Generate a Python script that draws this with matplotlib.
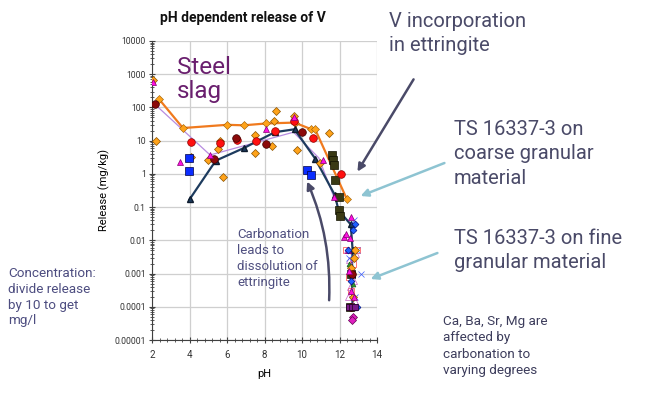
import numpy as np
import matplotlib
matplotlib.use('Agg')
import matplotlib.pyplot as plt
from matplotlib.ticker import LogLocator, MultipleLocator, FixedLocator, NullFormatter
from matplotlib.patches import FancyArrowPatch

plt.rcParams['font.family'] = ['Roboto', 'DejaVu Sans']

# Lines (Excel series with connecting lines)
orange_ph = [2.35, 3.65, 6.0, 6.9, 8.1, 9.6, 10.5, 10.7, 12.4]
orange_v = [185, 24, 30, 29, 33, 35, 22, 22, 0.17]

navy_ph = [4.0, 5.4, 6.9, 8.55, 9.6, 10.7, 11.75, 11.95, 12.6, 12.7, 12.65, 12.7]
navy_v = [0.17, 2.5, 6, 18, 22, 2.9, 0.23, 0.08, 0.03, 0.005, 0.001, 0.0001]

violet_ph = [2.15, 5.1, 9.55, 10.9, 11.7]
violet_v = [125, 3.7, 18, 3, 0.2]

# Scattered series
diam_ph = [2.07, 2.21, 4.06, 5.0, 5.54, 5.63, 5.8, 7.5, 7.5, 8.38, 8.5, 8.6, 9.55, 9.73,
           10.96, 11.46, 12.75, 12.85, 12.7, 12.6]
diam_v = [680, 10, 3.3, 2.7, 5.6, 10, 0.8, 15, 4.2, 7, 40, 78, 56, 5.3,
          2.2, 17, 0.003, 0.005, 0.0002, 0.0015]

red_ph = [4.06, 5.63, 6.52, 7.55, 8.56, 9.59, 10.6, 12.06]
red_v = [9.3, 8.3, 10.5, 9.8, 19, 39, 12, 0.98]

maroon_ph = [2.16, 5.3, 6.5, 8.07, 10.0, 12.65, 12.6]
maroon_v = [125, 2.8, 12, 7.9, 18, 0.001, 0.0001]

magenta_ph = [2.07, 3.5, 5.1, 8.1, 9.55, 11.1, 11.7, 12.25, 12.35, 12.55, 12.6, 12.5, 12.6,
              12.45, 12.75]
magenta_v = [600, 2.3, 3.7, 23, 50, 2.6, 0.2, 0.013, 0.016, 0.012, 0.05, 0.0012, 0.0003,
             0.005, 0.0002]

blue_sq_ph = [3.98, 3.98, 10.28, 10.5]
blue_sq_v = [3.1, 1.2, 1.3, 0.9]

dark_sq_ph = [11.6, 11.65, 11.7, 11.75, 11.95, 11.95, 12.05, 12.6, 12.55]
dark_sq_v = [3.7, 2.6, 1.8, 0.65, 0.2, 0.08, 0.055, 0.001, 0.0001]

open_tri_ph = [12.4, 12.5, 12.6, 12.75, 12.55, 12.9, 12.7, 12.45, 12.8]
open_tri_v = [0.005, 0.0025, 0.0012, 0.0006, 0.0004, 0.004, 0.003, 0.0002, 0.00015]

open_sq_ph = [12.35, 12.95, 12.7, 12.5, 12.6]
open_sq_v = [0.005, 0.005, 0.002, 0.0008, 0.0003]

x_ph = [12.75, 12.95, 13.15, 12.5, 12.85, 12.55]
x_v = [0.04, 0.005, 0.001, 0.003, 0.0002, 0.0015]

purple_sq_ph = [12.5, 12.65, 12.8]
purple_sq_v = [0.0001, 0.0001, 0.0001]

pink_diam_ph = [12.7, 12.68]
pink_diam_v = [0.00005, 0.00004]

blue_pt_ph = [12.8, 12.45, 12.95, 12.6, 12.7]
blue_pt_v = [0.03, 0.005, 0.0001, 0.0006, 0.02]

green_ph = [12.6, 12.7, 12.5]
green_v = [0.001, 0.0005, 0.002]

ylabels = ['0.00001', '0.0001', '0.001', '0.01', '0.1', '1', '10', '100', '1000', '10000']

fig = plt.figure(figsize=(6.56, 3.99), dpi=100)
W, H = 656, 399
ax = fig.add_axes([152 / W, 1 - 340 / H, 225 / W, 299 / H])

ax.set_yscale('log')
ax.set_xlim(2, 14)
ax.set_ylim(1e-5, 1e4)
ax.grid(True, which='major', color='#cfcfcf', lw=0.9)
ax.set_axisbelow(True)
for s in ['top', 'right']:
    ax.spines[s].set_visible(False)
for s in ['left', 'bottom']:
    ax.spines[s].set_color('#404040')

ax.xaxis.set_major_locator(MultipleLocator(2))
ax.xaxis.set_minor_locator(MultipleLocator(0.4))
ax.yaxis.set_minor_locator(LogLocator(base=10, subs=np.arange(2, 10), numticks=20))
ax.yaxis.set_minor_formatter(NullFormatter())
ax.yaxis.set_major_locator(FixedLocator([10.0 ** k for k in range(-5, 5)]))
ax.set_yticklabels(ylabels)
ax.tick_params(which='major', direction='inout', length=5, width=0.8, color='#404040',
               labelcolor='#333333')
ax.tick_params(axis='y', labelsize=6.2, pad=2)
ax.tick_params(axis='x', labelsize=7, pad=5)
ax.tick_params(which='minor', direction='inout', length=3, width=0.6, color='#404040')
ax.set_xlabel('pH', fontsize=8, labelpad=6)
ax.set_ylabel('Release (mg/kg)', fontsize=8, labelpad=3)

# connecting lines
ax.plot(violet_ph, violet_v, color='#b78ce0', lw=0.9, zorder=2)
ax.plot(orange_ph, orange_v, color='#f07a1e', lw=1.6, marker='D', ms=3.8,
        mfc='#ffa31a', mec='#9a5a00', mew=0.4, zorder=3)
ax.plot(navy_ph, navy_v, color='#1d3b5e', lw=1.6, marker='^', ms=4.5,
        mfc='#1d3b5e', mec='#0d1b2e', zorder=4)

mk = dict(mew=0.5, ls='none', zorder=5)
ax.plot(dark_sq_ph, dark_sq_v, marker='s', ms=5.5, mfc='#3a3a14', mec='#111100', **mk)
ax.plot(open_sq_ph, open_sq_v, marker='s', ms=5, mfc='none', mec='#ff4040', **mk)
ax.plot(open_tri_ph, open_tri_v, marker='^', ms=5, mfc='none', mec='#c860c8', **mk)
ax.plot(x_ph, x_v, marker='x', ms=4.5, color='#3a5cff', **mk)
ax.plot(green_ph, green_v, marker='^', ms=3.5, mfc='#2e9a2e', mec='#1a5a1a', **mk)
ax.plot(diam_ph, diam_v, marker='D', ms=3.8, mfc='#ffa31a', mec='#8a5200', **mk)
ax.plot(red_ph, red_v, marker='o', ms=5.5, mfc='#ff1010', mec='#8b0000', **mk)
ax.plot(maroon_ph, maroon_v, marker='o', ms=5.5, mfc='#8b0a0a', mec='#3a0000', **mk)
ax.plot(magenta_ph, magenta_v, marker='^', ms=5, mfc='#ff10e0', mec='#800070', **mk)
ax.plot(blue_sq_ph, blue_sq_v, marker='s', ms=5.5, mfc='#0a2cff', mec='#000040', **mk)
ax.plot(blue_pt_ph, blue_pt_v, marker='D', ms=3.5, mfc='#2060ff', mec='#001080', **mk)
ax.plot(purple_sq_ph, purple_sq_v, marker='s', ms=5, mfc='#7a1a8a', mec='#200020', **mk)
ax.plot(pink_diam_ph, pink_diam_v, marker='D', ms=4, mfc='#e020c0', mec='#600050', **mk)

fig.text(243 / W, 1 - 18 / H, 'pH dependent release of V', fontsize=10, fontweight='bold',
         ha='center', va='center', color='#111111')


def px(x, y):
    return (x / W, 1 - y / H)


fig.text(*px(177, 56), 'Steel\nslag', fontsize=17.5, color='#6a1f6e', va='top',
         linespacing=1.05)
slate = '#4a4a68'
fig.text(*px(389, 12), 'V incorporation\nin ettringite', fontsize=14.5, color=slate,
         va='top', linespacing=1.35)
fig.text(*px(454, 120), 'TS 16337-3 on\ncoarse granular\nmaterial', fontsize=14.5,
         color=slate, va='top', linespacing=1.35)
fig.text(*px(454, 229), 'TS 16337-3 on fine\ngranular material', fontsize=14.5,
         color=slate, va='top', linespacing=1.35)
fig.text(*px(443, 315), 'Ca, Ba, Sr, Mg are\naffected by\ncarbonation to\nvarying degrees',
         fontsize=9.7, color='#3d3d5c', va='top', linespacing=1.33)
fig.text(*px(8, 267), 'Concentration:\ndivide release\nby 10 to get\nmg/l',
         fontsize=9.7, color='#4d4d80', va='top', linespacing=1.28)
fig.text(*px(237, 228), 'Carbonation\nleads to\ndissolution of\nettringite',
         fontsize=9.5, color='#505080', va='top', linespacing=1.3)

arrow_kw = dict(transform=fig.transFigure, arrowstyle='-|>', mutation_scale=11, lw=1.8)
fig.add_artist(FancyArrowPatch(px(415, 77), px(356, 174), color='#4a4a68', **arrow_kw))
fig.add_artist(FancyArrowPatch(px(447, 162), px(358, 197), color='#8ec4d2', **arrow_kw))
fig.add_artist(FancyArrowPatch(px(440, 252), px(368, 280), color='#8ec4d2', **arrow_kw))
fig.add_artist(FancyArrowPatch(px(329, 303), px(306, 179), color='#4a4a68',
                               connectionstyle='arc3,rad=0.12', **arrow_kw))

fig.savefig('out.png', dpi=100)
